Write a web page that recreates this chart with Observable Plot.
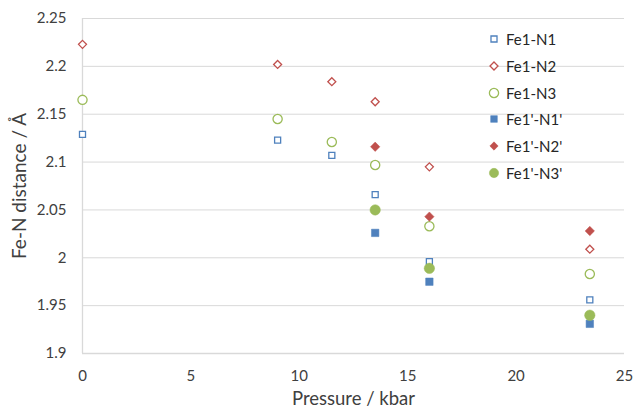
<!DOCTYPE html>
<html>
<head>
<meta charset="utf-8">
<script src="https://cdn.jsdelivr.net/npm/d3@7"></script>
<script src="https://cdn.jsdelivr.net/npm/@observablehq/plot@0.6"></script>
<style>
  html, body { margin: 0; padding: 0; background: #fff; }
  #wrap { position: relative; width: 633px; height: 410px; font-family: Lato, "Open Sans", sans-serif; }
  #legend { position: absolute; left: 486px; top: 26px; font-size: 15px; color: #262626; }
  #legend .row { display: flex; align-items: center; height: 26.7px; }
  #legend svg { width: 16px; height: 14px; margin-right: 4px; }
</style>
</head>
<body>
<div id="wrap"><div id="legend"></div></div>
<script>
const pressure = [0, 9, 11.5, 13.5, 16, 23.4];
const pressurePrime = [13.5, 16, 23.4];
const fe1n1 = [2.129, 2.123, 2.107, 2.066, 1.996, 1.956];
const fe1n2 = [2.223, 2.202, 2.184, 2.163, 2.095, 2.009];
const fe1n3 = [2.165, 2.145, 2.121, 2.097, 2.033, 1.983];
const fe1pn1 = [2.026, 1.975, 1.931];
const fe1pn2 = [2.116, 2.043, 2.028];
const fe1pn3 = [2.050, 1.989, 1.940];
const seriesNames = ["Fe1-N1", "Fe1-N2", "Fe1-N3", "Fe1'-N1'", "Fe1'-N2'", "Fe1'-N3'"];
const xTicks = [0, 5, 10, 15, 20, 25];
const yTicks = [1.9, 1.95, 2, 2.05, 2.1, 2.15, 2.2, 2.25];
const yTickLabels = ["1.9", "1.95", "2", "2.05", "2.1", "2.15", "2.2", "2.25"];

const blue = "#4F81BD", red = "#C0504D", green = "#9BBB59";
const styles = [
  {symbol: "square", color: blue, filled: false, r: 3.4},
  {symbol: "diamond2", color: red, filled: false, r: 3.6},
  {symbol: "circle", color: green, filled: false, r: 4.6},
  {symbol: "square", color: blue, filled: true, r: 4.2},
  {symbol: "diamond2", color: red, filled: true, r: 4.2},
  {symbol: "circle", color: green, filled: true, r: 5.2}
];

const seriesValues = [fe1n1, fe1n2, fe1n3, fe1pn1, fe1pn2, fe1pn3];
const seriesX = [pressure, pressure, pressure, pressurePrime, pressurePrime, pressurePrime];

const dotMarks = seriesValues.map((vals, i) => {
  const s = styles[i];
  const data = vals.map((v, j) => ({x: seriesX[i][j], y: v}));
  return Plot.dot(data, {
    x: "x", y: "y", symbol: () => s.symbol, r: s.r,
    fill: s.filled ? s.color : "white",
    stroke: s.color, strokeWidth: s.filled ? 0.5 : 1.3
  });
});

const chart = Plot.plot({
  width: 633, height: 410,
  marginLeft: 82, marginRight: 9, marginTop: 18, marginBottom: 57,
  style: {fontFamily: "Lato, 'Open Sans', sans-serif", fontSize: "15px", color: "#404040", background: "white"},
  x: {domain: [0, 25], ticks: xTicks},
  y: {domain: [1.9, 2.25], ticks: yTicks},
  symbol: {type: "identity"},
  marks: [
    Plot.gridY(yTicks, {stroke: "#d9d9d9", strokeOpacity: 1, strokeWidth: 1}),
    Plot.ruleY([1.9], {stroke: "#d9d9d9", strokeWidth: 1.3}),
    Plot.ruleX([0], {stroke: "#d9d9d9", strokeWidth: 1.3}),
    Plot.axisY(yTicks, {tickSize: 0, tickPadding: 16, tickFormat: (d) => yTickLabels[yTicks.indexOf(d)], fontSize: 15, fill: "#404040", label: null}),
    Plot.axisX(xTicks, {tickSize: 0, tickPadding: 17, fontSize: 15, fill: "#404040", label: null}),
    Plot.text(["Fe-N distance / Å"], {frameAnchor: "left", textAnchor: "middle", lineAnchor: "middle", dx: -63, rotate: -90, fontSize: 19, fill: "#404040"}),
    Plot.text(["Pressure / kbar"], {frameAnchor: "bottom", textAnchor: "middle", lineAnchor: "middle", dy: 46, fontSize: 18.5, fill: "#404040"}),
    ...dotMarks
  ]
});
document.getElementById("wrap").prepend(chart);

// legend
const legend = d3.select("#legend");
seriesNames.forEach((name, i) => {
  const s = styles[i];
  const row = legend.append("div").attr("class", "row");
  const svg = row.append("svg").attr("viewBox", "-8 -7 16 14");
  const sym = {square: d3.symbolSquare, diamond2: d3.symbolDiamond2, circle: d3.symbolCircle}[s.symbol];
  svg.append("path")
    .attr("d", d3.symbol(sym, Math.PI * s.r * s.r * (s.filled ? 0.8 : 1))())
    .attr("fill", s.filled ? s.color : "white")
    .attr("stroke", s.color)
    .attr("stroke-width", s.filled ? 0.5 : 1.3);
  row.append("span").text(name);
});
</script>
</body>
</html>
